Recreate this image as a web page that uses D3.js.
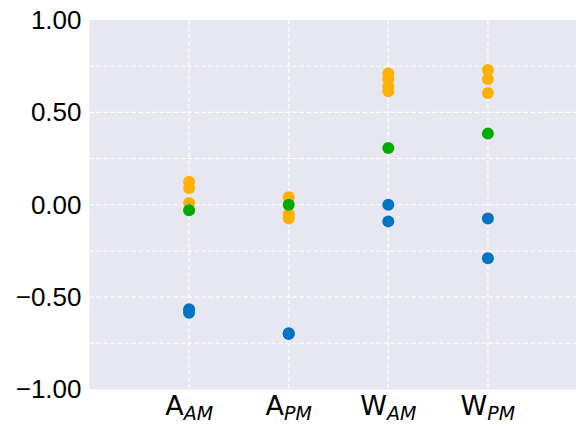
<!DOCTYPE html>
<html>
<head>
<meta charset="utf-8">
<script src="https://cdn.jsdelivr.net/npm/d3@7"></script>
<style>
  html, body { margin: 0; padding: 0; background: #ffffff; }
  svg { display: block; }
</style>
</head>
<body>
<svg id="chart" width="576" height="426"></svg>
<script>
// Categories: letter + subscript
const categories = ["A", "A", "W", "W"];
const subscripts = ["AM", "PM", "AM", "PM"];

// Series values per category
const blueValues = [[-0.565, -0.585], [-0.70, -0.695], [0.0, -0.09], [-0.075, -0.29]];
const orangeValues = [[0.125, 0.09, 0.01], [0.04, -0.05, -0.075], [0.71, 0.68, 0.64, 0.615], [0.73, 0.68, 0.605]];
const greenValues = [-0.03, 0.0, 0.307, 0.385];

// Axis ticks
const yTicks = [-1, -0.5, 0, 0.5, 1];
const yGridTicks = [-0.75, -0.5, -0.25, 0, 0.25, 0.5, 0.75];

const W = 576, H = 426;
const margin = { left: 89.5, top: 20, bottom: 389.5 };
const svg = d3.select("#chart");

const x = d3.scaleLinear().domain([0, categories.length + 1]).range([margin.left, 587.5]);
const y = d3.scaleLinear().domain([-1, 1]).range([margin.bottom, margin.top]);

// Plot background
svg.append("rect")
  .attr("x", margin.left).attr("y", margin.top)
  .attr("width", W - margin.left).attr("height", margin.bottom - margin.top)
  .attr("fill", "#e7e7f1");

// Gridlines
const grid = svg.append("g").attr("stroke", "#ffffff").attr("stroke-width", 1.1).attr("stroke-dasharray", "4.5,2.5");
grid.selectAll("line.h").data(yGridTicks).join("line")
  .attr("class", "h")
  .attr("x1", margin.left).attr("x2", W)
  .attr("y1", d => y(d)).attr("y2", d => y(d));
grid.selectAll("line.v").data(categories.map((c, i) => i + 1)).join("line")
  .attr("class", "v")
  .attr("x1", d => x(d)).attr("x2", d => x(d))
  .attr("y1", margin.top).attr("y2", margin.bottom);

// Y axis labels
const yAxis = d3.axisLeft(y).tickValues(yTicks).tickSize(0).tickPadding(8)
  .tickFormat(d => d3.format(".2f")(d).replace("-", "\u2212"));
const yG = svg.append("g").attr("transform", `translate(${margin.left},0)`).call(yAxis);
yG.select(".domain").remove();
yG.selectAll("text")
  .attr("font-family", "'Liberation Sans', Arial, sans-serif")
  .attr("font-size", 26).attr("fill", "#000");

// X axis labels with subscripts
const xLab = svg.append("g");
categories.forEach((c, i) => {
  const t = xLab.append("text")
    .attr("x", x(i + 1)).attr("y", 415)
    .attr("text-anchor", "middle")
    .attr("font-family", "'DejaVu Sans', sans-serif")
    .attr("font-size", 27).attr("fill", "#000");
  t.append("tspan").text(c);
  t.append("tspan").attr("font-size", 19).attr("font-style", "italic")
    .attr("dy", 5).text(subscripts[i]);
});

// Points
const r = 6;
function flatten(arr) {
  const out = [];
  arr.forEach((vals, i) => vals.forEach(v => out.push({ i, v })));
  return out;
}
svg.append("g").selectAll("circle").data(flatten(blueValues)).join("circle")
  .attr("cx", d => x(d.i + 1)).attr("cy", d => y(d.v)).attr("r", r).attr("fill", "#0073c4");
svg.append("g").selectAll("circle").data(flatten(orangeValues)).join("circle")
  .attr("cx", d => x(d.i + 1)).attr("cy", d => y(d.v)).attr("r", r).attr("fill", "#ffb000");
svg.append("g").selectAll("circle").data(greenValues.map((v, i) => ({ i, v }))).join("circle")
  .attr("cx", d => x(d.i + 1)).attr("cy", d => y(d.v)).attr("r", r).attr("fill", "#00aa00");
</script>
</body>
</html>
